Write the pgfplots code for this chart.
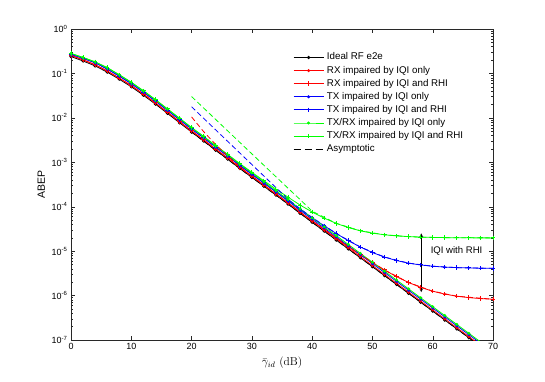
\documentclass[border=0pt]{standalone}
\usepackage{fontspec}
\setsansfont{Liberation Sans}
\usepackage{pgfplots}
\pgfplotsset{compat=1.18}
\usepackage{pgfplotstable}
\definecolor{mgreen}{RGB}{0,255,0}
\definecolor{mblue}{RGB}{0,0,255}
\definecolor{mred}{RGB}{255,0,0}
\definecolor{axgray}{RGB}{40,40,40}

% x  Ideal  RX-IQI  RX-IQI+RHI  TX-IQI  TX-IQI+RHI  TRX-IQI  TRX-IQI+RHI
\pgfplotstableread{
x I R1 R2 B1 B2 G1 G2
0 0.2399 0.2543 0.2545 0.2687 0.2687 0.2819 0.2819
2 0.1905 0.2019 0.2021 0.2191 0.2191 0.2286 0.2286
4 0.1479 0.1568 0.1570 0.1738 0.1738 0.1819 0.1819
6 0.1072 0.1136 0.1138 0.1260 0.1260 0.1350 0.1350
8 7.413e-2 7.858e-2 7.87e-2 8.710e-2 8.710e-2 9.333e-2 9.335e-2
10 5.012e-2 5.313e-2 5.32e-2 5.889e-2 5.889e-2 6.310e-2 6.312e-2
12 3.236e-2 3.430e-2 3.435e-2 3.802e-2 3.802e-2 4.074e-2 4.076e-2
14 2.042e-2 2.165e-2 2.168e-2 2.399e-2 2.399e-2 2.571e-2 2.573e-2
16 1.259e-2 1.335e-2 1.337e-2 1.479e-2 1.480e-2 1.585e-2 1.587e-2
18 7.762e-3 8.228e-3 8.24e-3 9.120e-3 9.124e-3 9.772e-3 9.792e-3
20 4.786e-3 5.073e-3 5.08e-3 5.624e-3 5.628e-3 6.026e-3 6.046e-3
22 3.020e-3 3.201e-3 3.205e-3 3.549e-3 3.553e-3 3.802e-3 3.822e-3
24 1.862e-3 1.974e-3 1.977e-3 2.188e-3 2.192e-3 2.344e-3 2.364e-3
26 1.175e-3 1.246e-3 1.247e-3 1.381e-3 1.385e-3 1.479e-3 1.499e-3
28 7.244e-4 7.679e-4 7.687e-4 8.512e-4 8.553e-4 9.120e-4 9.318e-4
30 4.571e-4 4.845e-4 4.853e-4 5.371e-4 5.412e-4 5.755e-4 5.953e-4
32 2.884e-4 3.057e-4 3.065e-4 3.389e-4 3.430e-4 3.631e-4 3.829e-4
34 1.820e-4 1.929e-4 1.937e-4 2.139e-4 2.180e-4 2.291e-4 2.489e-4
36 1.148e-4 1.217e-4 1.225e-4 1.349e-4 1.390e-4 1.445e-4 1.643e-4
38 7.079e-5 7.504e-5 7.582e-5 8.318e-5 8.723e-5 8.913e-5 1.089e-4
40 4.467e-5 4.735e-5 4.813e-5 5.249e-5 5.654e-5 5.623e-5 7.603e-5
42 2.818e-5 2.987e-5 3.065e-5 3.311e-5 3.716e-5 3.548e-5 5.528e-5
44 1.778e-5 1.885e-5 1.963e-5 2.089e-5 2.494e-5 2.239e-5 4.219e-5
46 1.122e-5 1.189e-5 1.267e-5 1.318e-5 1.723e-5 1.413e-5 3.393e-5
48 7.079e-6 7.504e-6 8.284e-6 8.318e-6 1.237e-5 8.913e-6 2.871e-5
50 4.467e-6 4.735e-6 5.515e-6 5.249e-6 9.299e-6 5.623e-6 2.542e-5
52 2.818e-6 2.987e-6 3.767e-6 3.311e-6 7.361e-6 3.548e-6 2.335e-5
54 1.778e-6 1.885e-6 2.665e-6 2.089e-6 6.139e-6 2.239e-6 2.204e-5
56 1.122e-6 1.189e-6 1.969e-6 1.318e-6 5.368e-6 1.413e-6 2.121e-5
58 7.079e-7 7.504e-7 1.530e-6 8.318e-7 4.882e-6 8.913e-7 2.069e-5
60 4.467e-7 4.735e-7 1.254e-6 5.249e-7 4.575e-6 5.623e-7 2.036e-5
62 2.818e-7 2.987e-7 1.079e-6 3.311e-7 4.381e-6 3.548e-7 2.015e-5
64 1.778e-7 1.885e-7 9.685e-7 2.089e-7 4.259e-6 2.239e-7 2.002e-5
66 1.122e-7 1.189e-7 8.989e-7 1.318e-7 4.182e-6 1.413e-7 1.994e-5
68 7.079e-8 7.504e-8 8.550e-7 8.318e-8 4.133e-6 8.913e-8 1.989e-5
70 4.467e-8 4.735e-8 8.274e-7 5.249e-8 4.102e-6 5.623e-8 1.986e-5
}\data

% asymptotic curves
\pgfplotstableread{
x y
20 4.786e-3
24 1.862e-3
28 7.244e-4
32 2.884e-4
36 1.148e-4
40 4.467e-5
44 1.778e-5
50 4.467e-6
60 4.467e-7
70 4.467e-8
}\asyI
\pgfplotstableread{
x y
20 1.05e-2
22 4.9e-3
24 2.51e-3
26 1.38e-3
28 7.94e-4
30 4.9e-4
32 3.07e-4
36 1.225e-4
40 4.813e-5
44 1.963e-5
48 8.284e-6
52 3.767e-6
56 1.969e-6
60 1.254e-6
64 9.685e-7
70 8.274e-7
}\asyR
\pgfplotstableread{
x y
20 1.778e-2
24 5.37e-3
28 1.62e-3
32 4.90e-4
36 1.48e-4
38 9.0e-5
40 5.7e-5
44 2.494e-5
48 1.237e-5
52 7.361e-6
56 5.368e-6
60 4.575e-6
64 4.259e-6
70 4.102e-6
}\asyB
\pgfplotstableread{
x y
20 3.02e-2
24 9.20e-3
28 2.805e-3
32 8.55e-4
36 2.61e-4
38 1.45e-4
40 7.94e-5
44 4.219e-5
48 2.871e-5
52 2.335e-5
56 2.121e-5
60 2.036e-5
64 2.002e-5
70 1.986e-5
}\asyG

\begin{document}
\begin{tikzpicture}
\begin{axis}[
  name=ax, at={(0,0)}, anchor=south west,
  scale only axis, width=422bp, height=311bp,
  xmin=0, xmax=70, ymin=1e-7, ymax=1, ymode=log,
  xtick={0,10,...,70},
  ytick={1e-7,1e-6,1e-5,1e-4,1e-3,1e-2,1e-1,1},
  yticklabels={10\textsuperscript{-7},10\textsuperscript{-6},10\textsuperscript{-5},10\textsuperscript{-4},10\textsuperscript{-3},10\textsuperscript{-2},10\textsuperscript{-1},10\textsuperscript{0}},
  tick label style={font=\sffamily\fontsize{9}{10}\selectfont, text=black},
  xticklabel style={/pgf/number format/assume math mode=true},
  axis line style={axgray}, every tick/.style={axgray},
  major tick length=4bp, minor tick length=2bp,
  xlabel={$\bar{\gamma}_{id}$ (dB)},
  ylabel={\sffamily ABEP},
  xlabel style={font=\fontsize{11.5}{13}\selectfont},
  ylabel style={font=\fontsize{10.5}{12}\selectfont},
  legend cell align=left,
  legend style={draw=none, fill=none, at={(0.526,0.9235)}, anchor=north west,
    inner sep=0pt, row sep=4.1bp, column sep=3bp,
    font=\sffamily\fontsize{9.8}{11}\selectfont,
    nodes={inner sep=0pt, text height=7bp, text depth=2bp}},
  legend image code/.code={\draw[mark repeat=2,mark phase=2,#1] plot coordinates {(0bp,0bp) (15bp,0bp) (30bp,0bp)};},
  every axis plot/.append style={line width=0.8bp},
]
\addplot[black, dashed, dash pattern=on 5bp off 3bp, forget plot] table[x=x,y=y]{\asyI};
\addplot[black, mark=*, mark size=1.2bp] table[x=x,y=I]{\data};
\addlegendentry{Ideal RF e2e}
\addplot[mred, mark=*, mark size=1.1bp] table[x=x,y=R1]{\data};
\addlegendentry{RX impaired by IQI only}
\addplot[mred, mark=+, mark size=2.2bp, mark options={line width=1bp}] table[x=x,y=R2]{\data};
\addlegendentry{RX impaired by IQI and RHI}
\addplot[mblue, mark=*, mark size=1.1bp] table[x=x,y=B1]{\data};
\addlegendentry{TX impaired by IQI only}
\addplot[mblue, mark=+, mark size=2.2bp, mark options={line width=1bp}] table[x=x,y=B2]{\data};
\addlegendentry{TX impaired by IQI and RHI}
\addplot[mgreen, mark=*, mark size=1.1bp] table[x=x,y=G1]{\data};
\addlegendentry{TX/RX impaired by IQI only}
\addplot[mgreen, mark=+, mark size=2.2bp, mark options={line width=1bp}] table[x=x,y=G2]{\data};
\addlegendentry{TX/RX impaired by IQI and RHI}
\addplot[mred, dashed, dash pattern=on 5bp off 3bp, forget plot] table[x=x,y=y]{\asyR};
\addplot[mblue, dashed, dash pattern=on 5bp off 3bp, forget plot] table[x=x,y=y]{\asyB};
\addplot[mgreen, dashed, dash pattern=on 5bp off 3bp, forget plot] table[x=x,y=y]{\asyG};
\addlegendimage{black, dashed, dash pattern=on 7bp off 4bp}
\addlegendentry{Asymptotic}
\draw[<->, >=stealth, black, line width=0.6bp] (axis cs:58.1,1.2e-6) -- (axis cs:58.1,2.5e-5);
\node[anchor=west, font=\sffamily\fontsize{9.6}{11}\selectfont] at (axis cs:59.1,1.02e-5) {IQI with RHI};
\end{axis}
\path (ax.south west) ++(-71bp,-42bp) rectangle ([xshift=52bp,yshift=29bp]ax.north east);
\end{tikzpicture}
\end{document}
